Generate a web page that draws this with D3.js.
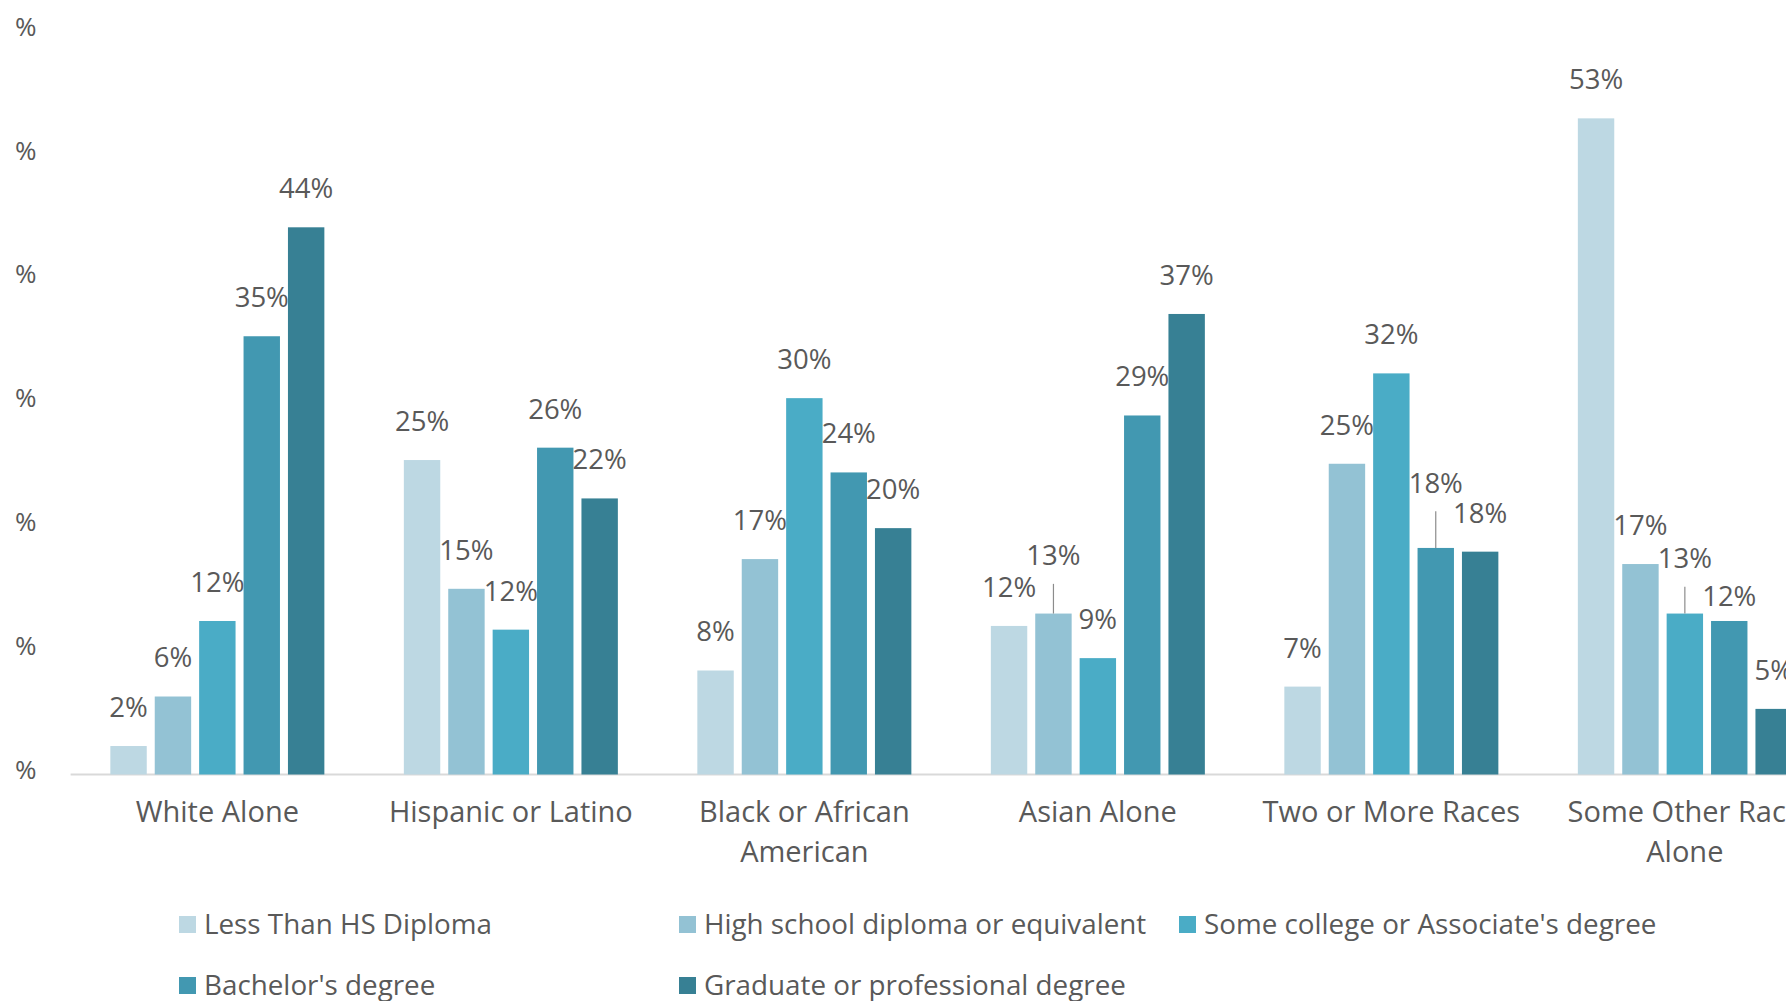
<!DOCTYPE html>
<html>
<head>
<meta charset="utf-8">
<script src="https://cdn.jsdelivr.net/npm/d3@7"></script>
<style>
body { margin: 0; background: #fff; }
svg { display: block; overflow: hidden; }
text { font-family: "Open Sans", sans-serif; fill: #595959; }
</style>
</head>
<body>
<svg id="chart"></svg>
<script>
// categories and series
const categories = ["White Alone", "Hispanic or Latino", "Black or African American", "Asian Alone", "Two or More Races", "Some Other Race Alone"];
const seriesNames = ["Less Than HS Diploma", "High school diploma or equivalent", "Some college or Associate's degree", "Bachelor's degree", "Graduate or professional degree"];
const seriesColors = ["#bdd8e3", "#93c2d4", "#4aacc6", "#4298b1", "#378094"];

// percent values, one array per series (in category order)
const lessThanHS   = [2.3, 25.4, 8.4, 12.0, 7.1, 53.0];
const highSchool   = [6.3, 15.0, 17.4, 13.0, 25.1, 17.0];
const someCollege  = [12.4, 11.7, 30.4, 9.4, 32.4, 13.0];
const bachelors    = [35.4, 26.4, 24.4, 29.0, 18.3, 12.4];
const graduate     = [44.2, 22.3, 19.9, 37.2, 18.0, 5.3];
const seriesValues = [lessThanHS, highSchool, someCollege, bachelors, graduate];

const yTicks = [0, 10, 20, 30, 40, 50, 60];

// labels that were dragged in the original (category index, series index, extra lift in px)
const labelNudges = [[3, 1, 19], [4, 3, 26], [5, 2, 16], [5, 3, -14]];

const width = 1786, height = 1001;
const svg = d3.select("#chart").attr("width", width).attr("height", height);

const left = 70.6, band = 293.5;
const x0 = d3.scaleBand()
  .domain(categories)
  .range([left, left + band * categories.length]);

const x1 = d3.scaleBand()
  .domain(d3.range(seriesNames.length))
  .range([0, x0.bandwidth()])
  .paddingInner(0.18)
  .paddingOuter(0.895);

const y = d3.scaleLinear()
  .domain([0, 60])
  .range([774.5, 774.5 - 60 * 12.38]);

// y axis labels (number format shows only "%")
svg.append("g").selectAll("text")
  .data(yTicks)
  .join("text")
  .attr("x", 15)
  .attr("y", d => y(d) - 5)
  .attr("dy", "0.35em")
  .style("font-size", "26px")
  .text("%");

// baseline
svg.append("line")
  .attr("x1", left).attr("x2", width)
  .attr("y1", y(0)).attr("y2", y(0))
  .attr("stroke", "#d9d9d9")
  .attr("stroke-width", 2);

const flat = [];
categories.forEach((c, ci) => {
  seriesValues.forEach((vals, si) => {
    const nudge = labelNudges.find(n => n[0] == ci && n[1] == si);
    flat.push({cat: c, ci: ci, si: si, value: vals[ci], lift: nudge ? nudge[2] : 0});
  });
});

svg.append("g").selectAll("rect")
  .data(flat)
  .join("rect")
  .attr("x", d => x0(d.cat) + x1(d.si))
  .attr("width", x1.bandwidth())
  .attr("y", d => y(d.value))
  .attr("height", d => y(0) - y(d.value))
  .attr("fill", d => seriesColors[d.si]);

const labelCenter = d => y(d.value) - 38.7 - d.lift;

// leader lines for moved labels
svg.append("g").selectAll("line")
  .data(flat.filter(d => d.lift > 10))
  .join("line")
  .attr("x1", d => x0(d.cat) + x1(d.si) + x1.bandwidth() / 2)
  .attr("x2", d => x0(d.cat) + x1(d.si) + x1.bandwidth() / 2)
  .attr("y1", d => labelCenter(d) + 28)
  .attr("y2", d => y(d.value))
  .attr("stroke", "#8c8c8c")
  .attr("stroke-width", 1.2);

svg.append("g").selectAll("text")
  .data(flat)
  .join("text")
  .attr("x", d => x0(d.cat) + x1(d.si) + x1.bandwidth() / 2)
  .attr("y", d => labelCenter(d))
  .attr("dy", "0.35em")
  .attr("text-anchor", "middle")
  .style("font-size", "27.5px")
  .text(d => d3.format(".0%")(d.value / 100));

// category labels, wrapped to the band
const catText = svg.append("g").selectAll("text")
  .data(categories)
  .join("text")
  .attr("x", d => x0(d) + x0.bandwidth() / 2)
  .attr("y", 822)
  .attr("text-anchor", "middle")
  .style("font-size", "29px")
  .text(d => d);

catText.each(function(d) {
  const t = d3.select(this);
  const words = d.split(" ");
  const maxW = x0.bandwidth() - 20;
  let line = [];
  t.text(null);
  let tspan = t.append("tspan").attr("x", x0(d) + x0.bandwidth() / 2);
  words.forEach(w => {
    line.push(w);
    tspan.text(line.join(" "));
    if (tspan.node().getComputedTextLength() > maxW && line.length > 1) {
      line.pop();
      tspan.text(line.join(" "));
      line = [w];
      tspan = t.append("tspan")
        .attr("x", x0(d) + x0.bandwidth() / 2)
        .attr("dy", 40)
        .text(w);
    }
  });
});

// legend
const legendPos = [[179, 924], [679, 924], [1179, 924], [179, 985], [679, 985]];
const legend = svg.append("g").selectAll("g")
  .data(seriesNames)
  .join("g")
  .attr("transform", (d, i) => `translate(${legendPos[i][0]},${legendPos[i][1]})`);

legend.append("rect")
  .attr("x", 0).attr("y", -8)
  .attr("width", 17).attr("height", 17)
  .attr("fill", (d, i) => seriesColors[i]);

legend.append("text")
  .attr("x", 25)
  .attr("dy", "0.35em")
  .style("font-size", "27.8px")
  .text(d => d);
</script>
</body>
</html>
